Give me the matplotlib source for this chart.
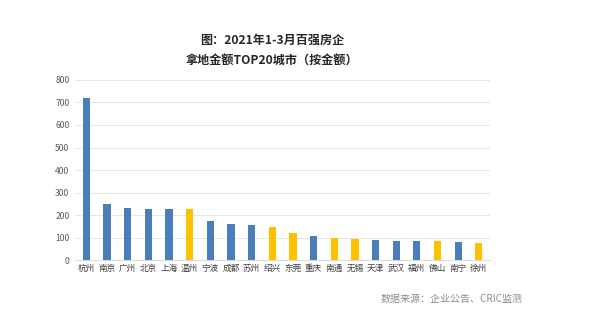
import matplotlib
matplotlib.use("Agg")
import matplotlib.pyplot as plt

plt.rcParams['font.family'] = ['Noto Sans CJK SC', 'DejaVu Sans']

cities = ["杭州", "南京", "广州", "北京", "上海", "温州", "宁波", "成都", "苏州", "绍兴",
          "东莞", "重庆", "南通", "无锡", "天津", "武汉", "福州", "佛山", "南宁", "徐州"]
values = [720, 251, 233, 229, 227, 227, 175, 158, 154, 148,
          118, 109, 99, 93, 91, 86, 83, 83, 79, 76]
highlight = ["温州", "绍兴", "东莞", "南通", "无锡", "佛山", "徐州"]
yticks = [0, 100, 200, 300, 400, 500, 600, 700, 800]

blue = "#4a7ebb"
yellow = "#ffc000"
colors = [yellow if c in highlight else blue for c in cities]

fig = plt.figure(figsize=(6, 3.36), dpi=100)
ax = fig.add_axes([0.125, 0.226, 0.692, 0.536])
x = range(len(cities))
ax.bar(x, values, width=0.35, color=colors, zorder=3)
ax.set_xlim(-0.55, len(cities) - 0.45)
ax.set_ylim(0, 800)
ax.set_yticks(yticks)
ax.set_xticks(list(x))
ax.set_xticklabels(cities, fontsize=6.2, color="#404040")
ax.tick_params(axis='y', labelsize=6.2, labelcolor="#595959", length=0, pad=4)
ax.tick_params(axis='x', length=0, pad=3)
ax.grid(axis='y', color="#e6e6e6", linewidth=0.7, zorder=0)
for s in ["top", "right", "left"]:
    ax.spines[s].set_visible(False)
ax.spines["bottom"].set_color("#d9d9d9")
ax.spines["bottom"].set_linewidth(0.7)

fig.text(272 / 600, 1 - 40 / 336, "图：2021年1-3月百强房企", ha="center", va="center",
         fontsize=8.7, fontweight="bold", color="#262626")
fig.text(272 / 600, 1 - 60 / 336, "拿地金额TOP20城市（按金额）", ha="center", va="center",
         fontsize=8.7, fontweight="bold", color="#262626")
fig.text(452 / 600, 1 - 299 / 336, "数据来源：企业公告、CRIC监测", ha="center", va="center",
         fontsize=7.2, color="#8c8c8c")

fig.savefig("out.png", dpi=100)
